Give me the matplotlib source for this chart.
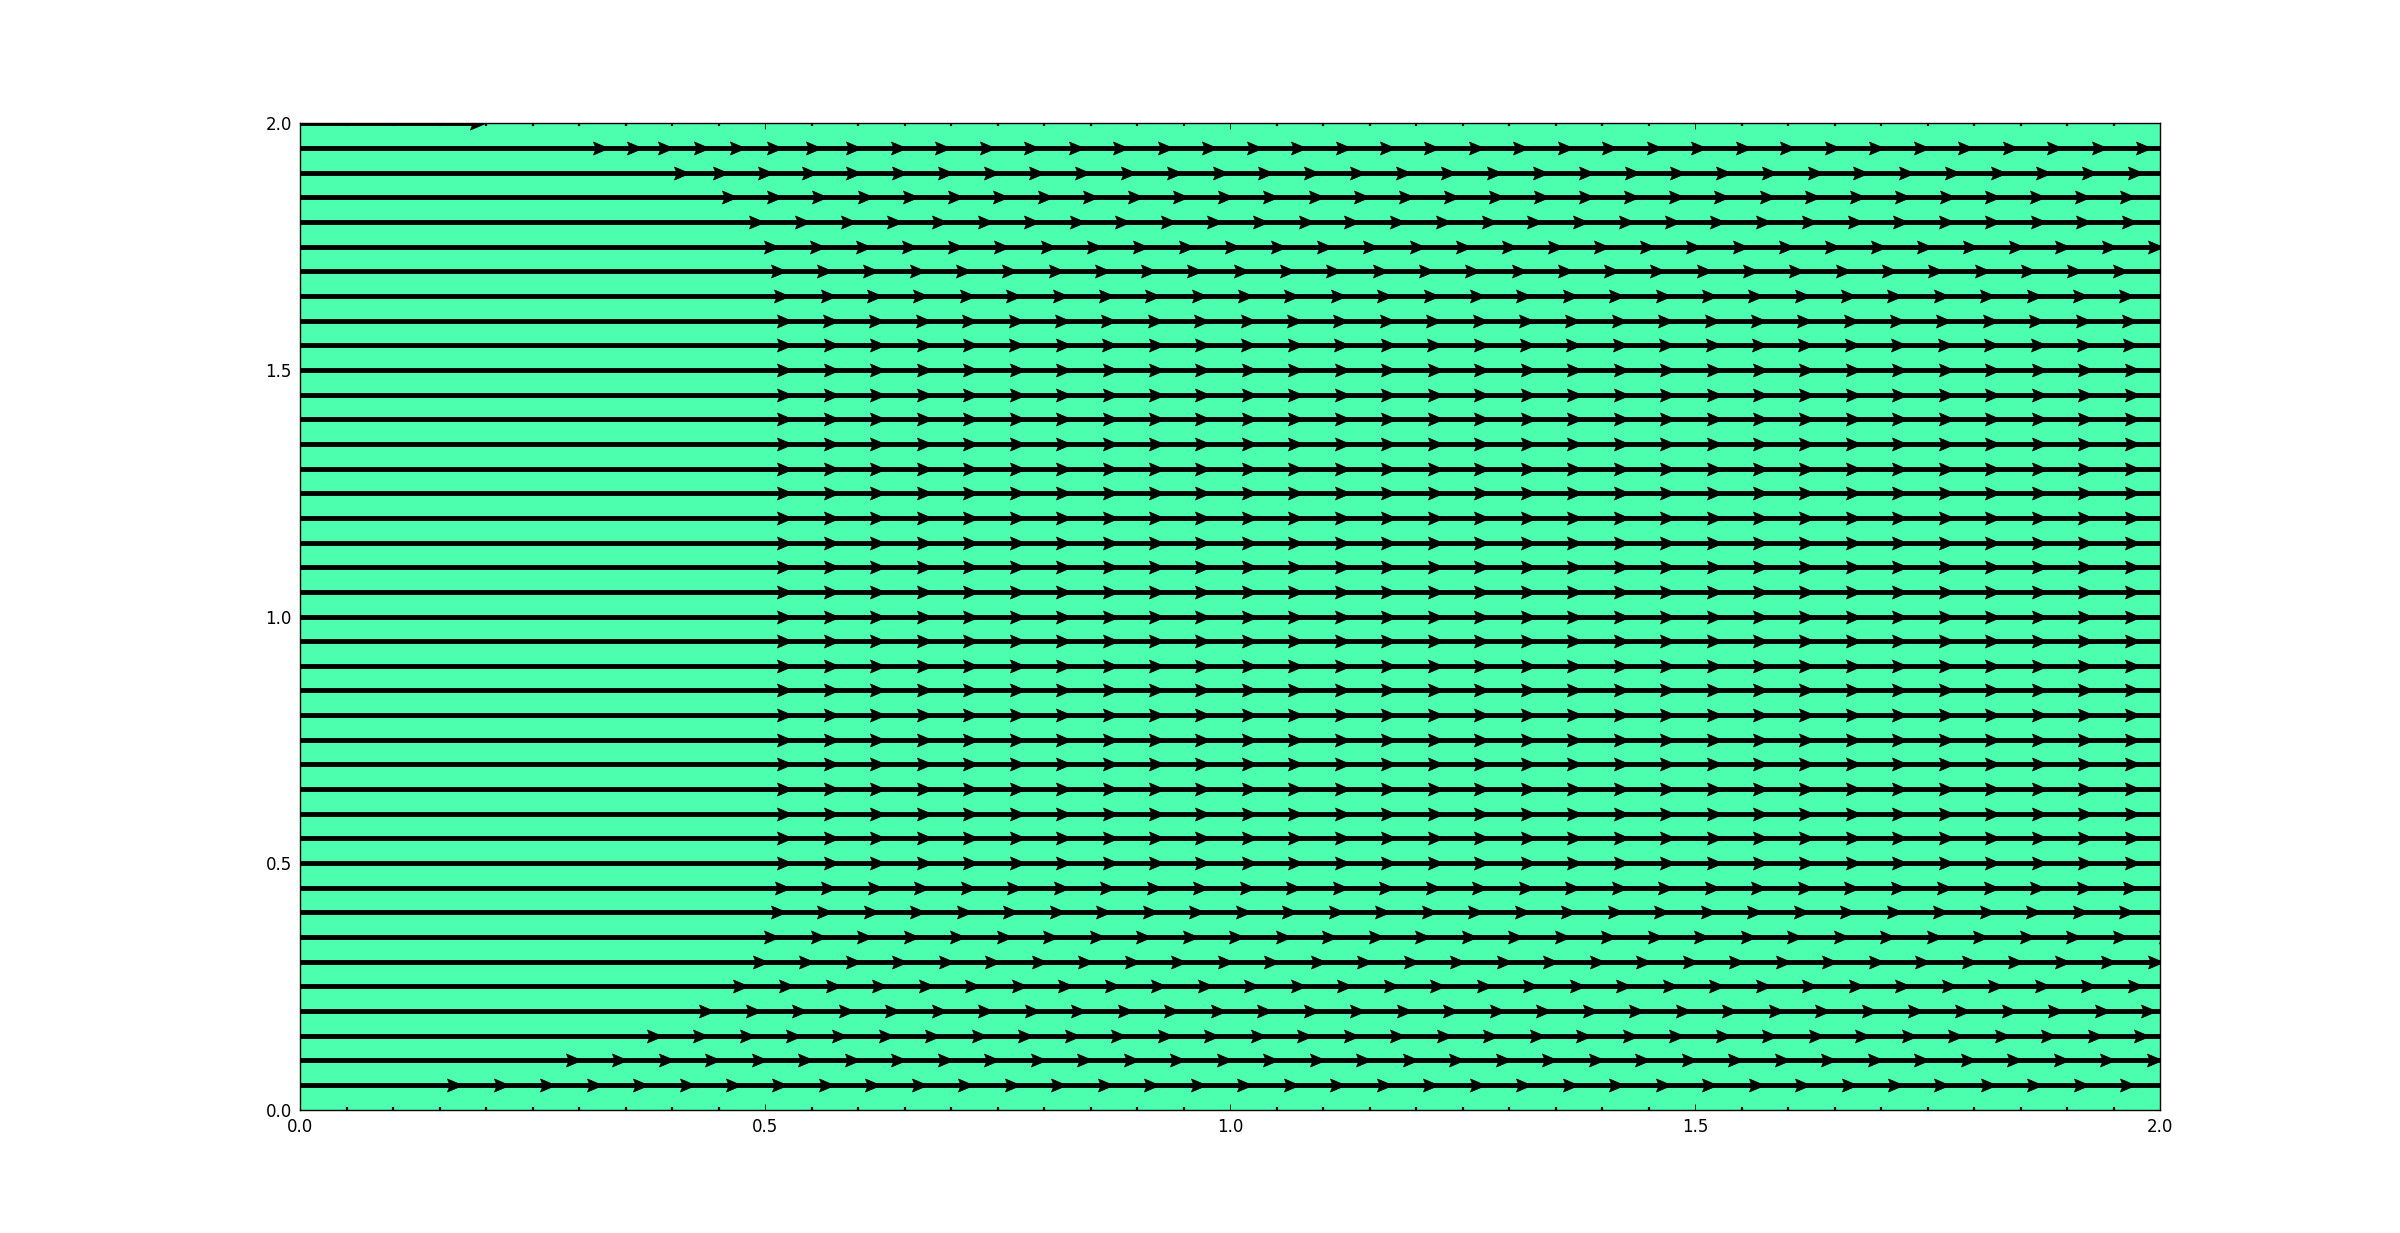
import numpy as np
import matplotlib
matplotlib.use("Agg")
import matplotlib.pyplot as plt
from matplotlib.path import Path
from matplotlib.ticker import MultipleLocator

# ---------------- data ----------------
# streamline rows (y) and their horizontal extent
row_y = [0.05, 0.10, 0.15, 0.20, 0.25, 0.30, 0.35, 0.40, 0.45, 0.50,
         0.55, 0.60, 0.65, 0.70, 0.75, 0.80, 0.85, 0.90, 0.95, 1.00,
         1.05, 1.10, 1.15, 1.20, 1.25, 1.30, 1.35, 1.40, 1.45, 1.50,
         1.55, 1.60, 1.65, 1.70, 1.75, 1.80, 1.85, 1.90, 1.95, 2.00]
line_start = [0.0] * 40
line_end = [2.0] * 39 + [0.19]

# evenly spaced arrowheads on each row: first / last arrow (x of arrow back) and count
arrow_first = [0.1582, 0.2855, 0.3726, 0.4293, 0.4651, 0.4869, 0.4993, 0.5064, 0.5107, 0.5132,
               0.5132, 0.5132, 0.5132, 0.5132, 0.5132, 0.5132, 0.5132, 0.5132, 0.5132, 0.5132,
               0.5132, 0.5132, 0.5132, 0.5132, 0.5132, 0.5132, 0.5132, 0.5132, 0.5132, 0.5132,
               0.5132, 0.5125, 0.5100, 0.5062, 0.4987, 0.4833, 0.4540, 0.5875, 0.5875, 0.1830]
arrow_last = [1.9574, 1.9857, 1.9724, 1.9796, 1.9653, 1.9868, 1.9993, 1.9564, 1.9607, 1.9620,
              1.9620, 1.9620, 1.9620, 1.9620, 1.9620, 1.9620, 1.9620, 1.9620, 1.9620, 1.9620,
              1.9620, 1.9620, 1.9620, 1.9620, 1.9620, 1.9620, 1.9620, 1.9620, 1.9620, 1.9620,
              1.9606, 1.9592, 1.9563, 1.9499, 1.9868, 1.9592, 1.9574, 1.9656, 1.9742, 0.1830]
arrow_count = [37, 35, 33, 32, 31, 31, 31, 30, 30, 30,
               30, 30, 30, 30, 30, 30, 30, 30, 30, 30,
               30, 30, 30, 30, 30, 30, 30, 30, 30, 30,
               30, 30, 30, 30, 31, 31, 32, 29, 30, 1]
# extra, more tightly packed arrowheads at the start of the two top rows
lead_arrows_190 = [0.4026, 0.4437, 0.4930, 0.5403]
lead_arrows_195 = [0.3155, 0.3513, 0.3854, 0.4232, 0.4622, 0.5025, 0.5444]

x_ticks = [0.0, 0.5, 1.0, 1.5, 2.0]
y_ticks = [0.0, 0.5, 1.0, 1.5, 2.0]

# ---------------- figure ----------------
plt.rcParams["font.family"] = ["DejaVu Sans"]
fig = plt.figure(figsize=(24, 12.33), dpi=100)
ax = fig.add_axes([0.125, 0.1, 0.775, 0.8])
ax.set_facecolor("#4bffaf")

LINE_W = 3.5
ax.hlines(row_y, line_start, line_end, colors="black", linewidth=LINE_W, zorder=2)

# arrowhead marker: back at the data point, tip to the right
head = Path([(0, -0.42), (1, 0), (0, 0.42), (0.18, 0), (0, -0.42)],
            [Path.MOVETO, Path.LINETO, Path.LINETO, Path.LINETO, Path.CLOSEPOLY])

ax_x, ax_y = [], []
for y, a, b, n in zip(row_y, arrow_first, arrow_last, arrow_count):
    xs = list(np.linspace(a, b, n))
    if abs(y - 1.90) < 1e-9:
        xs = lead_arrows_190 + xs
    if abs(y - 1.95) < 1e-9:
        xs = lead_arrows_195 + xs
    ax_x.extend(xs)
    ax_y.extend([y] * len(xs))
ax.plot(ax_x, ax_y, linestyle="none", marker=head, markersize=22,
        markerfacecolor="black", markeredgecolor="black", markeredgewidth=0.6,
        zorder=3)

ax.set_xlim(0, 2)
ax.set_ylim(0, 2)
ax.set_xticks(x_ticks)
ax.set_yticks(y_ticks)
ax.xaxis.set_minor_locator(MultipleLocator(0.05))
ax.tick_params(which="both", direction="in", top=True, right=True,
               labelsize=12, pad=6)
ax.tick_params(which="major", length=4, width=0.6)
ax.tick_params(axis="x", which="minor", length=2, width=1.6)
for s in ax.spines.values():
    s.set_linewidth(1.0)
    s.set_color("black")

fig.savefig("out.png", dpi=100)
